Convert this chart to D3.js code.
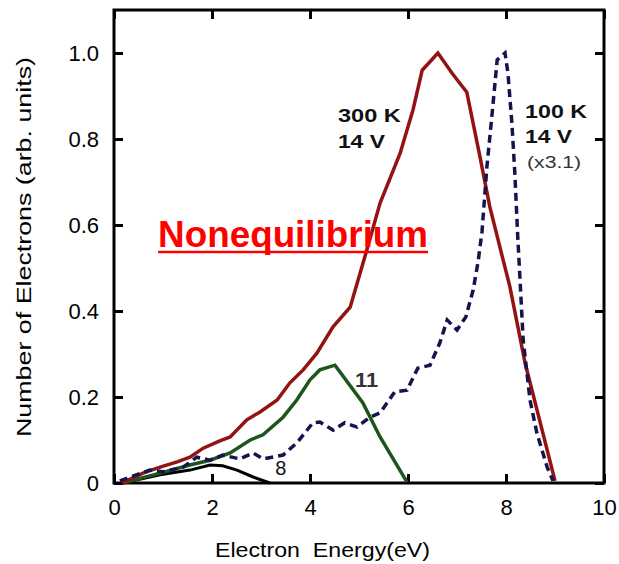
<!DOCTYPE html>
<html>
<head>
<meta charset="utf-8">
<script src="https://cdn.jsdelivr.net/npm/d3@7"></script>
<style>
  body { margin: 0; background: #fff; }
  text { font-family: Arial, "Liberation Sans", sans-serif; }
</style>
</head>
<body>
<div id="chart"></div>
<script>
// Electron energy (eV) vs normalized number of electrons
const line300K = [
  [0.16, 0.000], [0.59, 0.023], [0.94, 0.037], [1.29, 0.049], [1.55, 0.060],
  [1.82, 0.081], [2.16, 0.098], [2.37, 0.107], [2.71, 0.147], [2.98, 0.165],
  [3.33, 0.193], [3.59, 0.233], [3.86, 0.263], [4.14, 0.302], [4.47, 0.363],
  [4.82, 0.409], [5.16, 0.542], [5.43, 0.651], [5.84, 0.767], [6.10, 0.867],
  [6.29, 0.960], [6.61, 1.000], [6.90, 0.953], [7.20, 0.909], [7.47, 0.758],
  [7.67, 0.642], [8.08, 0.456], [8.39, 0.279], [9.00, 0.005]
];
const line11V = [
  [0.18, 0.000], [0.94, 0.023], [1.55, 0.042], [1.96, 0.053], [2.37, 0.070],
  [2.78, 0.100], [3.04, 0.112], [3.45, 0.153], [3.73, 0.193], [4.00, 0.240],
  [4.20, 0.263], [4.51, 0.274], [5.08, 0.186], [5.43, 0.107], [5.98, 0.002]
];
const line8V = [
  [0.18, 0.000], [0.94, 0.019], [1.55, 0.030], [1.96, 0.042], [2.22, 0.040],
  [2.51, 0.030], [2.84, 0.014], [3.18, 0.000]
];
const line100K = [
  [0.12, 0.005], [0.73, 0.030], [1.00, 0.026], [1.41, 0.037], [1.69, 0.060],
  [1.96, 0.053], [2.22, 0.065], [2.57, 0.056], [2.84, 0.070], [3.04, 0.056],
  [3.45, 0.065], [3.73, 0.093], [4.06, 0.140], [4.20, 0.142], [4.47, 0.123],
  [4.71, 0.140], [4.96, 0.130], [5.22, 0.153], [5.43, 0.163], [5.73, 0.212],
  [5.98, 0.216], [6.20, 0.267], [6.45, 0.274], [6.65, 0.326], [6.80, 0.379],
  [7.00, 0.356], [7.18, 0.386], [7.33, 0.449], [7.43, 0.514], [7.51, 0.584],
  [7.61, 0.735], [7.71, 0.851], [7.82, 0.984], [7.98, 1.000], [8.04, 0.953],
  [8.12, 0.837], [8.18, 0.721], [8.24, 0.572], [8.29, 0.465], [8.35, 0.333],
  [8.49, 0.193], [8.63, 0.116], [8.84, 0.037], [8.96, 0.005]
];
const xTicks = [0, 2, 4, 6, 8, 10];
const yTicks = [0, 0.2, 0.4, 0.6, 0.8, 1.0];
const yTickLabels = ["0", "0.2", "0.4", "0.6", "0.8", "1.0"];

const W = 619, H = 564;
const margin = { top: 10, right: 15, bottom: 81, left: 114 };
const width = W - margin.left - margin.right,
      height = H - margin.top - margin.bottom;

const svg = d3.select("#chart").append("svg")
    .attr("width", W)
    .attr("height", H);

const g = svg.append("g")
    .attr("transform", `translate(${margin.left},${margin.top})`);

const x = d3.scaleLinear().domain([0, 10]).range([0, width]);
const y = d3.scaleLinear().domain([0, 1.1]).range([height, 0]);

// inward ticks on all four sides
const tickLen = 9;
g.append("g").attr("transform", `translate(0,${height})`)
  .call(d3.axisBottom(x).tickValues(xTicks).tickSizeInner(-tickLen).tickSizeOuter(0)
        .tickPadding(16).tickFormat(d3.format("d")));
g.append("g")
  .call(d3.axisTop(x).tickValues(xTicks).tickSizeInner(-tickLen).tickSizeOuter(0).tickFormat(""));
g.append("g")
  .call(d3.axisLeft(y).tickValues(yTicks).tickSizeInner(-tickLen).tickSizeOuter(0)
        .tickPadding(15).tickFormat((d, i) => yTickLabels[i]));
g.append("g").attr("transform", `translate(${width},0)`)
  .call(d3.axisRight(y).tickValues(yTicks).tickSizeInner(-tickLen).tickSizeOuter(0).tickFormat(""));

g.selectAll(".domain").remove();
g.selectAll(".tick line").attr("stroke", "#000").attr("stroke-width", 3);
g.selectAll(".tick text").attr("font-size", 22).attr("fill", "#000")
  .style("font-family", "Arial, 'Liberation Sans', sans-serif");

g.append("rect")
  .attr("width", width).attr("height", height)
  .attr("fill", "none").attr("stroke", "#000").attr("stroke-width", 3);

const line = d3.line().x(d => x(d[0])).y(d => y(d[1]));

g.append("path").datum(line8V)
  .attr("fill", "none").attr("stroke", "#000").attr("stroke-width", 3).attr("d", line);
g.append("path").datum(line11V)
  .attr("fill", "none").attr("stroke", "#1d561d").attr("stroke-width", 3.5).attr("d", line);
g.append("path").datum(line300K)
  .attr("fill", "none").attr("stroke", "#941212").attr("stroke-width", 3.5).attr("d", line);
g.append("path").datum(line100K)
  .attr("fill", "none").attr("stroke", "#14144f").attr("stroke-width", 3.5)
  .attr("stroke-dasharray", "8,5").attr("d", line);

// annotations
function label(txt, ex, ev, size, opts = {}) {
  const t = g.append("text")
    .attr("x", x(ex)).attr("y", y(ev))
    .attr("font-size", size)
    .attr("font-weight", opts.weight || "bold")
    .attr("fill", opts.fill || "#111")
    .text(txt);
  if (opts.len) t.attr("textLength", opts.len).attr("lengthAdjust", "spacingAndGlyphs");
  return t;
}
label("300 K", 4.57, 0.84, 19, { len: 63 });
label("14 V", 4.57, 0.779, 19, { len: 47 });
label("100 K", 8.39, 0.849, 19, { len: 62 });
label("14 V", 8.39, 0.791, 19, { len: 47 });
label("(x3.1)", 8.43, 0.733, 16, { weight: "normal", fill: "#333", len: 54 });
label("11", 4.92, 0.223, 20, { fill: "#333", len: 23 });
label("8", 3.29, 0.019, 20, { weight: "normal", fill: "#111" });

const neq = label("Nonequilibrium", 0.9, 0.549, 37, { fill: "#ff0000", len: 270 });
const bb = neq.node().getBBox();
g.append("line")
  .attr("x1", bb.x).attr("x2", bb.x + bb.width)
  .attr("y1", y(0.549) + 5).attr("y2", y(0.549) + 5)
  .attr("stroke", "#ff0000").attr("stroke-width", 2.5);

// axis titles
svg.append("text")
  .attr("x", 215).attr("y", 557)
  .attr("font-size", 21)
  .attr("fill", "#000")
  .attr("textLength", 215).attr("lengthAdjust", "spacingAndGlyphs")
  .style("white-space", "pre")
  .text("Electron  Energy(eV)");

svg.append("text")
  .attr("transform", `translate(31,437) rotate(-90)`)
  .attr("font-size", 21)
  .attr("fill", "#000")
  .attr("textLength", 380).attr("lengthAdjust", "spacingAndGlyphs")
  .text("Number of Electrons (arb. units)");
</script>
</body>
</html>
